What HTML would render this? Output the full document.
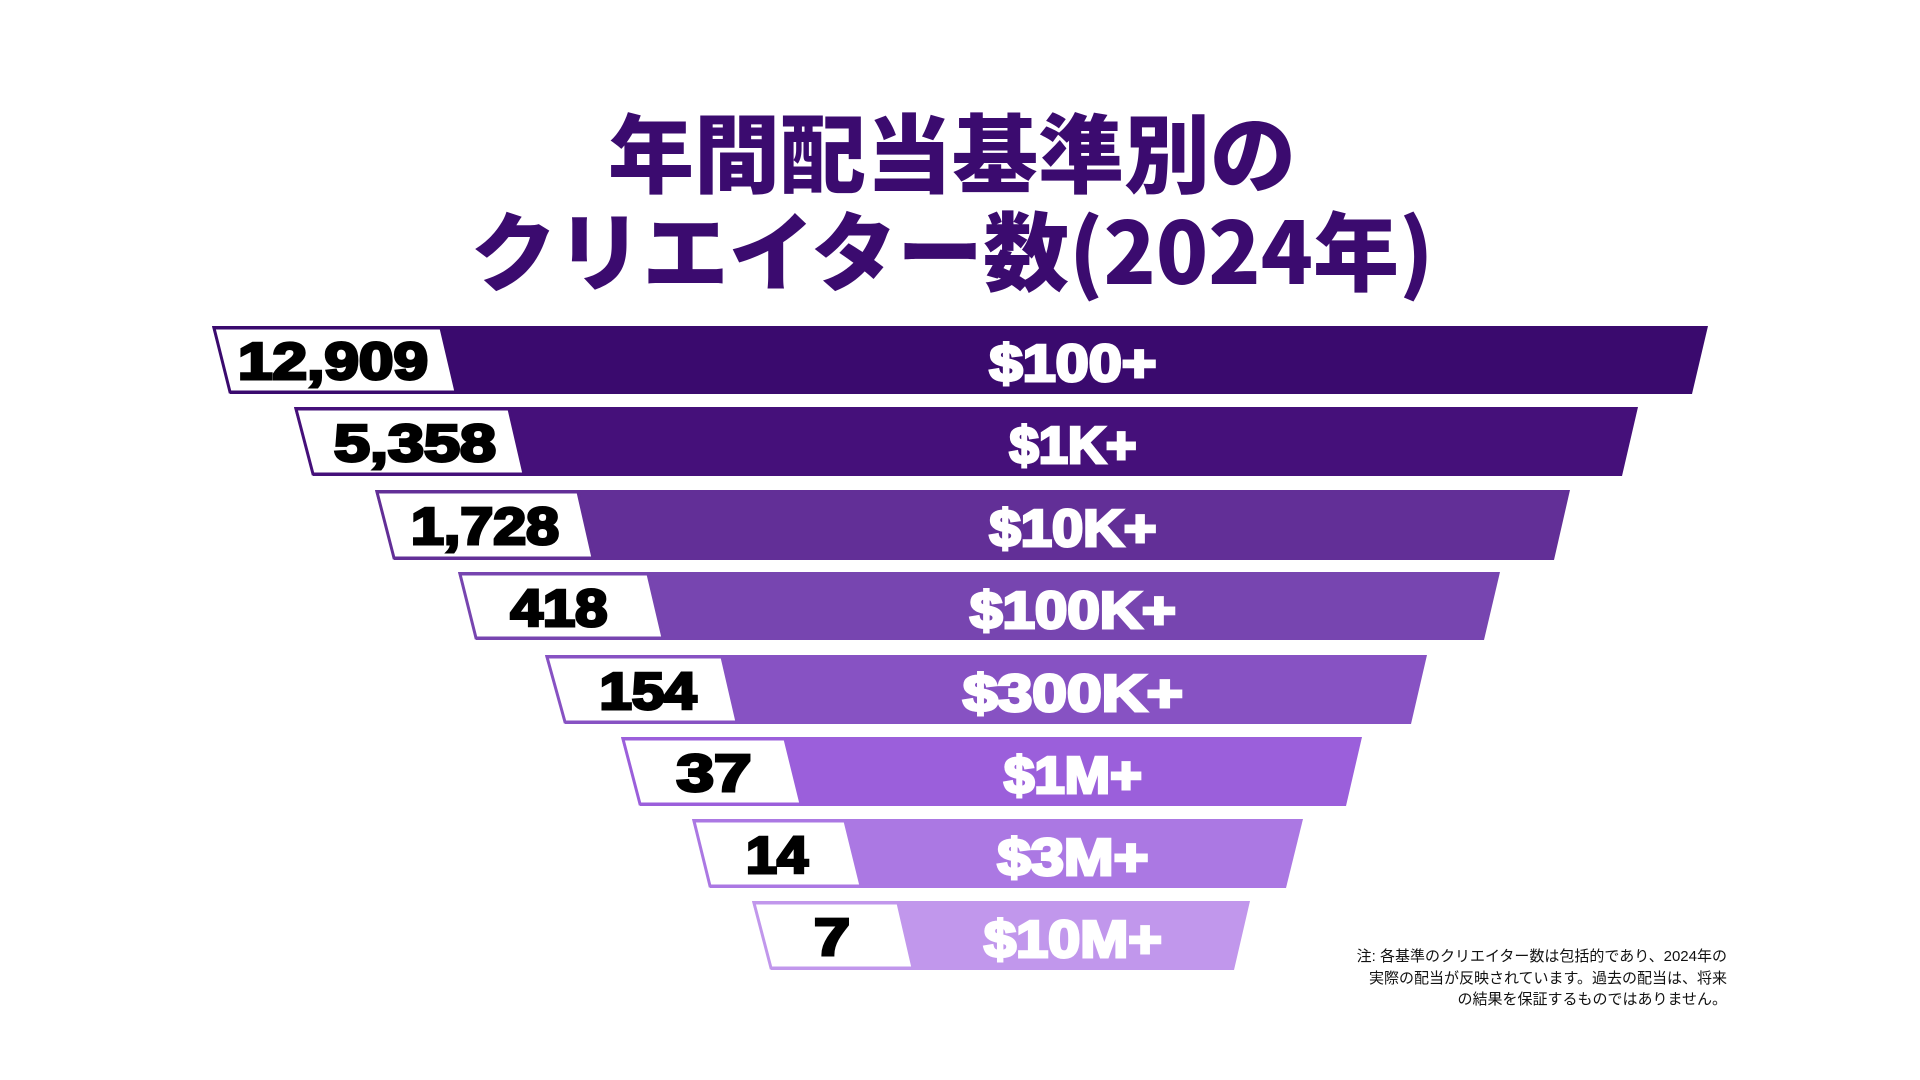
<!DOCTYPE html>
<html><head><meta charset="utf-8"><style>
html,body{margin:0;padding:0;background:#fff;}
svg{display:block}
</style></head><body>
<svg width="1920" height="1080" viewBox="0 0 1920 1080" xmlns="http://www.w3.org/2000/svg">
<g font-family="'Noto Sans CJK JP',sans-serif" font-weight="900" fill="#3b0b6f" text-anchor="middle">
<text x="952" y="186" font-size="86">年間配当基準別の</text>
<text x="952" y="284" font-size="86">クリエイター数(2024年)</text>
</g>
<g font-family="'Liberation Sans',sans-serif" font-weight="bold" text-anchor="middle" font-size="52" lengthAdjust="spacingAndGlyphs">
<polygon points="212,326 1708,326 1692,394 230,394" fill="#3a0a6e"/>
<polygon points="214,328 441,328 456,392 230,392" fill="#fff" stroke="#3a0a6e" stroke-width="3"/>
<text x="333" y="379" fill="#000" stroke="#000" stroke-width="3" textLength="190" lengthAdjust="spacingAndGlyphs">12,909</text>
<text x="1073" y="381" fill="#fff" stroke="#fff" stroke-width="3" textLength="167" lengthAdjust="spacingAndGlyphs">$100+</text>

<polygon points="294,407 1638,407 1622,476 313,476" fill="#45107a"/>
<polygon points="296,409 509,409 524,474 313,474" fill="#fff" stroke="#45107a" stroke-width="3"/>
<text x="415" y="461" fill="#000" stroke="#000" stroke-width="3" textLength="162" lengthAdjust="spacingAndGlyphs">5,358</text>
<text x="1073" y="463" fill="#fff" stroke="#fff" stroke-width="3" textLength="127" lengthAdjust="spacingAndGlyphs">$1K+</text>

<polygon points="375,490 1570,490 1554,560 394,560" fill="#622f97"/>
<polygon points="377,492 578,492 593,558 394,558" fill="#fff" stroke="#622f97" stroke-width="3"/>
<text x="485" y="544" fill="#000" stroke="#000" stroke-width="3" textLength="148" lengthAdjust="spacingAndGlyphs">1,728</text>
<text x="1073" y="546" fill="#fff" stroke="#fff" stroke-width="3" textLength="167" lengthAdjust="spacingAndGlyphs">$10K+</text>

<polygon points="458,572 1500,572 1484,640 476,640" fill="#7745b0"/>
<polygon points="460,574 648,574 663,638 476,638" fill="#fff" stroke="#7745b0" stroke-width="3"/>
<text x="559" y="626" fill="#000" stroke="#000" stroke-width="3" textLength="97" lengthAdjust="spacingAndGlyphs">418</text>
<text x="1073" y="628" fill="#fff" stroke="#fff" stroke-width="3" textLength="206" lengthAdjust="spacingAndGlyphs">$100K+</text>

<polygon points="545,655 1427,655 1411,724 565,724" fill="#8752c3"/>
<polygon points="547,657 722,657 737,722 565,722" fill="#fff" stroke="#8752c3" stroke-width="3"/>
<text x="648" y="709" fill="#000" stroke="#000" stroke-width="3" textLength="97" lengthAdjust="spacingAndGlyphs">154</text>
<text x="1073" y="711" fill="#fff" stroke="#fff" stroke-width="3" textLength="220" lengthAdjust="spacingAndGlyphs">$300K+</text>

<polygon points="621,737 1362,737 1346,806 640,806" fill="#9b5fdb"/>
<polygon points="623,739 785,739 801,804 640,804" fill="#fff" stroke="#9b5fdb" stroke-width="3"/>
<text x="714" y="791" fill="#000" stroke="#000" stroke-width="3" textLength="75" lengthAdjust="spacingAndGlyphs">37</text>
<text x="1073" y="793" fill="#fff" stroke="#fff" stroke-width="3" textLength="138" lengthAdjust="spacingAndGlyphs">$1M+</text>

<polygon points="692,819 1303,819 1286,888 710,888" fill="#ab78e3"/>
<polygon points="694,821 845,821 861,886 710,886" fill="#fff" stroke="#ab78e3" stroke-width="3"/>
<text x="777" y="873" fill="#000" stroke="#000" stroke-width="3" textLength="62" lengthAdjust="spacingAndGlyphs">14</text>
<text x="1073" y="875" fill="#fff" stroke="#fff" stroke-width="3" textLength="151" lengthAdjust="spacingAndGlyphs">$3M+</text>

<polygon points="752,901 1250,901 1234,970 771,970" fill="#c197ec"/>
<polygon points="754,903 898,903 913,968 771,968" fill="#fff" stroke="#c197ec" stroke-width="3"/>
<text x="832" y="955" fill="#000" stroke="#000" stroke-width="3" textLength="36" lengthAdjust="spacingAndGlyphs">7</text>
<text x="1073" y="957" fill="#fff" stroke="#fff" stroke-width="3" textLength="178" lengthAdjust="spacingAndGlyphs">$10M+</text>
</g>
<g font-family="'Liberation Sans','Noto Sans CJK JP',sans-serif" font-size="15" fill="#111" text-anchor="end">
<text x="1727" y="961">注: 各基準のクリエイター数は包括的であり、2024年の</text>
<text x="1727" y="983">実際の配当が反映されています。過去の配当は、将来</text>
<text x="1727" y="1004">の結果を保証するものではありません。</text>
</g>
</svg>
</body></html>
